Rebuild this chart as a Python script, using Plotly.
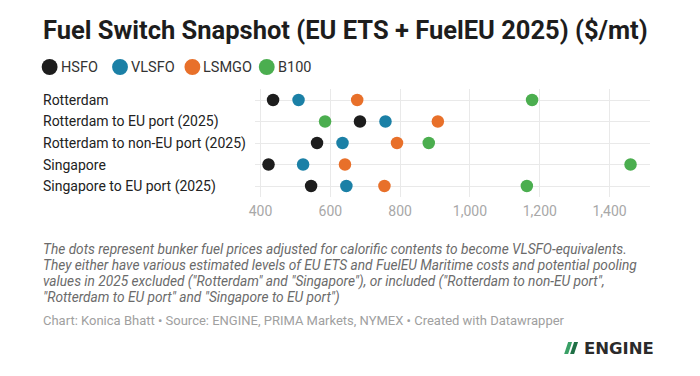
import plotly.graph_objects as go

W, H = 700, 376

categories = [
    "Rotterdam",
    "Rotterdam to EU port (2025)",
    "Rotterdam to non-EU port (2025)",
    "Singapore",
    "Singapore to EU port (2025)",
]
series_names = ["HSFO", "VLSFO", "LSMGO", "B100"]
hsfo = [436, 685, 562, 423, 545]
vlsfo = [509, 758, 635, 522, 646]
lsmgo = [677, 908, 791, 642, 755]
b100 = [1178, 585, 882, 1460, 1163]
series_values = [hsfo, vlsfo, lsmgo, b100]
colors = ["#1d1d1d", "#1b80a6", "#e8702a", "#4bae4f"]

tick_vals = [400, 600, 800, 1000, 1200, 1400]
tick_labels = ["400", "600", "800", "1,000", "1,200", "1,400"]

title = "Fuel Switch Snapshot (EU ETS + FuelEU 2025) ($/mt)"
notes = [
    "The dots represent bunker fuel prices adjusted for calorific contents to become VLSFO-equivalents.",
    "They either have various estimated levels of EU ETS and FuelEU Maritime costs and potential pooling",
    "values in 2025 excluded (\"Rotterdam\" and \"Singapore\"), or included (\"Rotterdam to non-EU port\",",
    "\"Rotterdam to EU port\" and \"Singapore to EU port\")",
]
credits = "Chart: Konica Bhatt \u2022 Source: ENGINE, PRIMA Markets, NYMEX \u2022 Created with Datawrapper"

FONT = "Roboto"


def px(x):
    return x / W


def py(y):
    return 1 - y / H


fig = go.Figure()
for name, vals, col in zip(series_names, series_values, colors):
    fig.add_trace(go.Scatter(
        x=vals, y=categories, mode="markers", name=name,
        marker=dict(size=12.5, color=col, line=dict(width=0)),
        showlegend=False,
        hovertemplate="%{y}<br>" + name + ": %{x}<extra></extra>",
    ))

row_h = 21.5
top = 100 - row_h / 2
bottom = top + row_h * len(categories)

fig.update_layout(
    width=W, height=H,
    margin=dict(l=0, r=0, t=0, b=0),
    paper_bgcolor="white", plot_bgcolor="white",
    font=dict(family=FONT),
    xaxis=dict(
        domain=[px(250.7), px(649.3)],
        range=[383, 1515],
        tickvals=tick_vals, ticktext=tick_labels,
        showgrid=True, gridcolor="#e9e9e9", gridwidth=1,
        zeroline=False, showline=False, ticks="",
        tickfont=dict(family=FONT, size=14, color="#a8a8a8"),
        ticklabelstandoff=4,
        fixedrange=True,
    ),
    yaxis=dict(
        domain=[py(bottom), py(top)],
        type="category", categoryorder="array", categoryarray=categories,
        range=[len(categories) - 0.5, -0.5],
        showgrid=True, gridcolor="#e9e9e9", gridwidth=1,
        zeroline=False, showline=False, ticks="",
        showticklabels=False, fixedrange=True,
    ),
)

annotations = []
shapes = []

# title
annotations.append(dict(
    text="<b>" + title + "</b>", xref="paper", yref="paper",
    x=px(35), y=py(30), xanchor="left", yanchor="middle", showarrow=False,
    font=dict(family=FONT, size=25.5, color="#1d1d1d"),
))

# legend (manual)
leg_x = [44, 115, 188, 263]
leg_y = 67
r = 8
for name, col, cx in zip(series_names, colors, leg_x):
    shapes.append(dict(
        type="circle", xref="paper", yref="paper",
        x0=px(cx - r), x1=px(cx + r), y0=py(leg_y + r), y1=py(leg_y - r),
        fillcolor=col, line=dict(width=0),
    ))
    annotations.append(dict(
        text=name, xref="paper", yref="paper",
        x=px(cx + r + 1), y=py(leg_y), xanchor="left", yanchor="middle",
        showarrow=False, font=dict(family=FONT, size=14.5, color="#333333"),
    ))

# category labels
for c in categories:
    annotations.append(dict(
        text=c, xref="paper", yref="y", x=px(35), y=c,
        xanchor="left", yanchor="middle", showarrow=False,
        font=dict(family=FONT, size=14, color="#222222"),
    ))

# notes
note_y = [249, 265, 281, 297]
for t, yy in zip(notes, note_y):
    annotations.append(dict(
        text="<i>" + t + "</i>", xref="paper", yref="paper",
        x=px(35), y=py(yy), xanchor="left", yanchor="middle", showarrow=False,
        font=dict(family=FONT, size=13.7, color="#6b6b6b"),
    ))

annotations.append(dict(
    text=credits, xref="paper", yref="paper",
    x=px(35), y=py(320), xanchor="left", yanchor="middle", showarrow=False,
    font=dict(family=FONT, size=13, color="#a0a0a0"),
))

# ENGINE logo
shapes.append(dict(
    type="path", xref="paper", yref="paper",
    path="M {} {} L {} {} L {} {} L {} {} Z".format(
        px(563), py(354), px(567), py(342), px(571), py(342), px(567), py(354)),
    fillcolor="#3aa066", line=dict(width=0),
))
shapes.append(dict(
    type="path", xref="paper", yref="paper",
    path="M {} {} L {} {} L {} {} L {} {} Z".format(
        px(569), py(354), px(573), py(342), px(577), py(342), px(573), py(354)),
    fillcolor="#1f6f45", line=dict(width=0),
))
annotations.append(dict(
    text="<b>ENGINE</b>", xref="paper", yref="paper",
    x=px(581), y=py(348), xanchor="left", yanchor="middle", showarrow=False,
    font=dict(family="DejaVu Sans", size=16.5, color="#2b2b2b"),
))

fig.update_layout(annotations=annotations, shapes=shapes)

fig.write_html(
    "out.html",
    config={"displayModeBar": False},
    post_script="document.body.style.margin='0';document.body.style.overflow='hidden';",
)
